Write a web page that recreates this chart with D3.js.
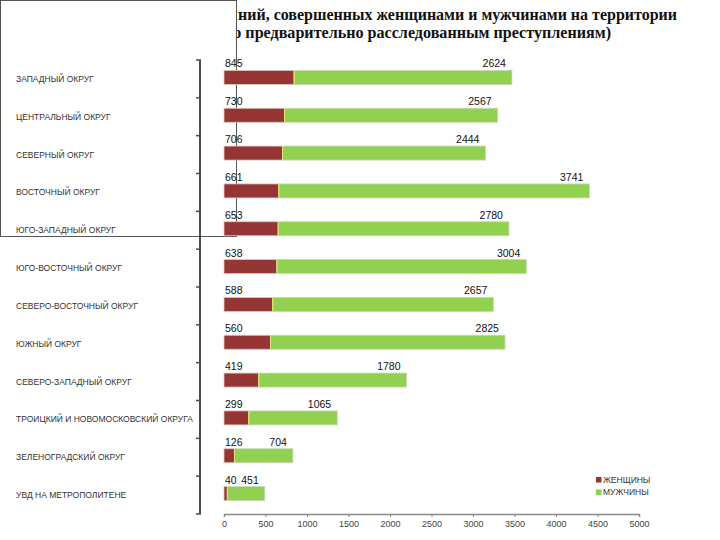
<!DOCTYPE html>
<html><head><meta charset="utf-8">
<script src="https://cdn.jsdelivr.net/npm/d3@7"></script>
<style>body{margin:0;background:#fff}svg{display:block}</style>
</head><body>
<svg id="chart" width="720" height="540"></svg>
<script>
const categories = [
  "ЗАПАДНЫЙ ОКРУГ",
  "ЦЕНТРАЛЬНЫЙ ОКРУГ",
  "СЕВЕРНЫЙ ОКРУГ",
  "ВОСТОЧНЫЙ ОКРУГ",
  "ЮГО-ЗАПАДНЫЙ ОКРУГ",
  "ЮГО-ВОСТОЧНЫЙ ОКРУГ",
  "СЕВЕРО-ВОСТОЧНЫЙ ОКРУГ",
  "ЮЖНЫЙ ОКРУГ",
  "СЕВЕРО-ЗАПАДНЫЙ ОКРУГ",
  "ТРОИЦКИЙ И НОВОМОСКОВСКИЙ ОКРУГА",
  "ЗЕЛЕНОГРАДСКИЙ ОКРУГ",
  "УВД НА МЕТРОПОЛИТЕНЕ"
];
const women = [845, 730, 706, 661, 653, 638, 588, 560, 419, 299, 126, 40];
const men = [2624, 2567, 2444, 3741, 2780, 3004, 2657, 2825, 1780, 1065, 704, 451];
const seriesNames = ["ЖЕНЩИНЫ", "МУЖЧИНЫ"];
const xTicks = [0, 500, 1000, 1500, 2000, 2500, 3000, 3500, 4000, 4500, 5000];
const titleLines = [
  "ний, совершенных женщинами и мужчинами на территории",
  "по предварительно расследованным преступлениям)"
];

const colors = {women: "#963634", men: "#92D050"};
const svg = d3.select("#chart");

// Title (partly hidden by the white box, as in the reference)
const titleG = svg.append("g").attr("font-family", "'Liberation Serif','Times New Roman',serif")
  .attr("font-weight", "bold").attr("font-size", 17).attr("fill", "#111");
titleG.append("text").attr("x", 238).attr("y", 20).text(titleLines[0])
  .attr("textLength", 439).attr("lengthAdjust", "spacingAndGlyphs");
titleG.append("text").attr("x", 224).attr("y", 38).text(titleLines[1])
  .attr("textLength", 387).attr("lengthAdjust", "spacingAndGlyphs");

// White box overlay
svg.append("rect").attr("x", 0.5).attr("y", 0.5).attr("width", 236).attr("height", 236)
  .attr("fill", "#fff").attr("stroke", "#555").attr("stroke-width", 1);

const x = d3.scaleLinear().domain([0, 5000]).range([224, 639]);
const y = d3.scaleBand().domain(categories).range([60, 514]).paddingInner(0).paddingOuter(0);
const barH = 14;
const barTop = c => y(c) + y.step() / 2 - barH / 2 - 1.5;

// Category axis
const yAxisG = svg.append("g").attr("transform", "translate(200,0)");
yAxisG.append("line").attr("x1", 0).attr("x2", 0).attr("y1", y.range()[0]).attr("y2", y.range()[1])
  .attr("stroke", "#4a4a58").attr("stroke-width", 2);
const bounds = categories.map(c => y(c)).concat([y.range()[1]]);
yAxisG.selectAll("line.tk").data(bounds).join("line").attr("class", "tk")
  .attr("x1", -4).attr("x2", 1).attr("y1", d => d).attr("y2", d => d)
  .attr("stroke", "#4a4a58").attr("stroke-width", 1.5);
svg.append("g").selectAll("text").data(categories).join("text")
  .attr("x", 16).attr("y", c => y(c) + y.step() / 2).attr("dy", "0.35em")
  .attr("font-family", "'Liberation Sans',Arial,sans-serif").attr("font-size", 8.5)
  .attr("fill", "#333").text(c => c);

// X axis
const xAxis = d3.axisBottom(x).tickValues(xTicks).tickSize(3).tickPadding(4).tickFormat(d3.format("d"));
const xg = svg.append("g").attr("transform", "translate(0,514)").call(xAxis);
xg.select(".domain").attr("stroke", "#888").attr("stroke-width", 1.5);
xg.selectAll(".tick line").attr("stroke", "#888");
xg.selectAll(".tick text").attr("font-family", "'Liberation Sans',Arial,sans-serif")
  .attr("font-size", 9).attr("fill", "#444");

// Bars
const rows = categories.map((c, i) => ({c, w: women[i], m: men[i]}));
const bars = svg.append("g");
bars.selectAll("rect.w").data(rows).join("rect").attr("class", "w")
  .attr("x", d => x(0)).attr("y", d => barTop(d.c)).attr("width", d => x(d.w) - x(0)).attr("height", barH)
  .attr("fill", colors.women).attr("stroke", "#d8c8c0").attr("stroke-width", 0.8);
bars.selectAll("rect.m").data(rows).join("rect").attr("class", "m")
  .attr("x", d => x(d.w)).attr("y", d => barTop(d.c)).attr("width", d => x(d.w + d.m) - x(d.w)).attr("height", barH)
  .attr("fill", colors.men).attr("stroke", "#c9d6b8").attr("stroke-width", 0.8);
bars.selectAll("line.sep").data(rows).join("line").attr("class", "sep")
  .attr("x1", d => x(d.w)).attr("x2", d => x(d.w)).attr("y1", d => barTop(d.c)).attr("y2", d => barTop(d.c) + barH)
  .attr("stroke", "#e8e07a").attr("stroke-width", 1);

// Data labels
const lbl = svg.append("g").attr("font-family", "'Liberation Sans',Arial,sans-serif").attr("font-size", 10.5).attr("fill", "#111");
lbl.selectAll("text.w").data(rows).join("text").attr("class", "w")
  .attr("x", d => x(0) + 1).attr("y", d => barTop(d.c) - 3).text(d => d.w);
lbl.selectAll("text.m").data(rows).join("text").attr("class", "m")
  .attr("x", d => x(d.w + d.m) - 6).attr("y", d => barTop(d.c) - 3).attr("text-anchor", "end").text(d => d.m);

// Legend
const lg = svg.append("g").attr("font-family", "'Liberation Sans',Arial,sans-serif").attr("font-size", 8.5).attr("fill", "#333");
const legendItems = [{n: seriesNames[0], col: colors.women}, {n: seriesNames[1], col: colors.men}];
lg.selectAll("rect").data(legendItems).join("rect")
  .attr("x", 596).attr("y", (d, i) => 477 + i * 12.5).attr("width", 5.5).attr("height", 5.5).attr("fill", d => d.col);
lg.selectAll("text").data(legendItems).join("text")
  .attr("x", 603).attr("y", (d, i) => 480 + i * 12.5).attr("dy", "0.35em").text(d => d.n);
</script>
</body></html>
